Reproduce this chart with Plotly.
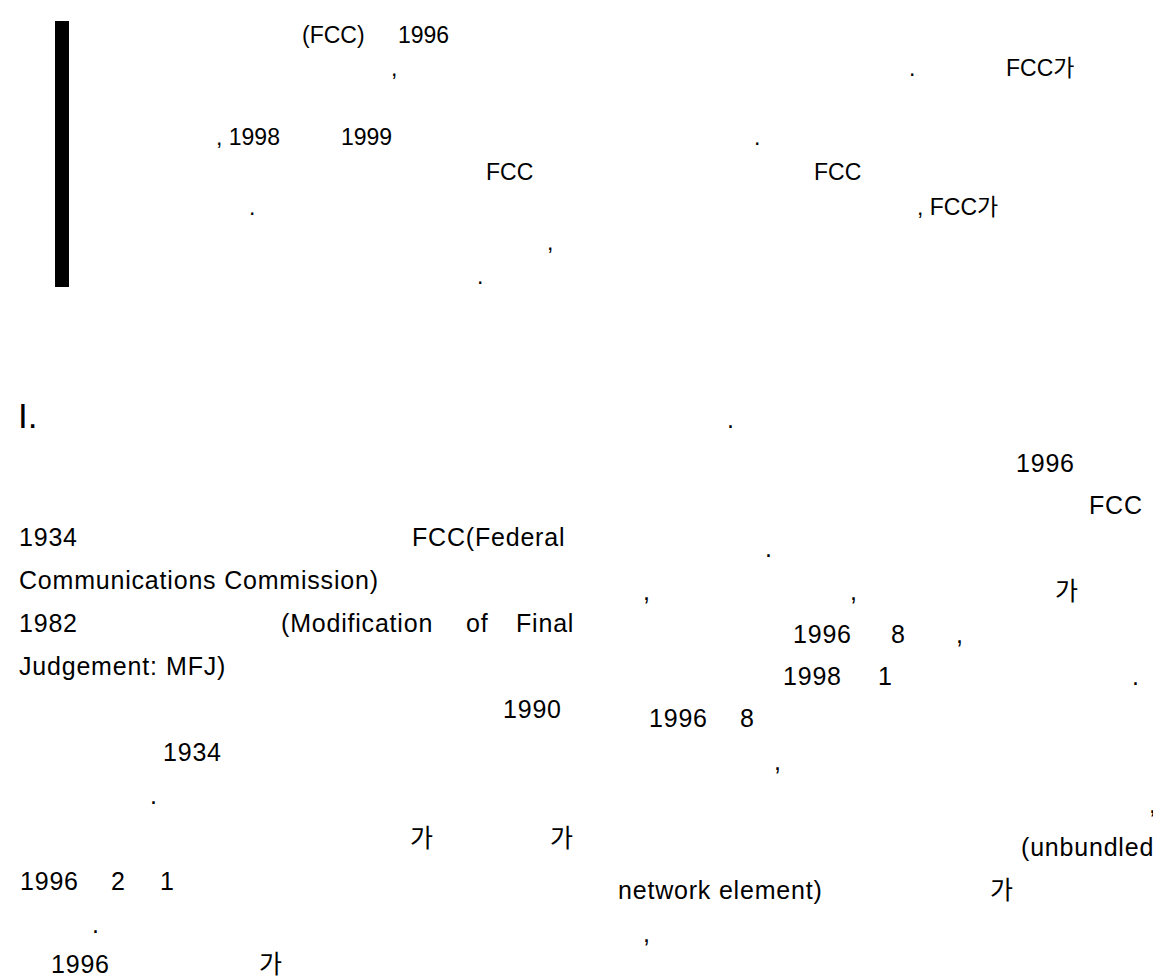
import plotly.graph_objects as go

# ---------------- data: text fragments of the page ----------------
# abstract block (top, boxed by a black bar on the left)
top_texts = ["(FCC)", "1996",
             ",", ".", "FCC가",
             ", 1998", "1999", ".",
             "FCC", "FCC",
             ".", ", FCC가",
             ",",
             "."]
# section heading
heading_texts = ["I."]
# left body column
left_texts = ["1934", "FCC(Federal",
              "Communications Commission)",
              "1982", "(Modification", "of", "Final",
              "Judgement:", "MFJ)",
              "1990",
              "1934",
              ".",
              "가", "가",
              "1996", "2", "1",
              ".",
              "1996", "가"]
# right body column
right_texts = [".",
               "1996",
               "FCC",
               ".",
               ",", ",", "가",
               "1996", "8", ",",
               "1998", "1", ".",
               "1996", "8",
               ",",
               ",",
               "(unbundled",
               "network element)", "가",
               ","]

# ---------------- layout: where each fragment sits (page pixels) ----------------
top_x = [293, 389, 382, 900, 997, 207, 332, 745, 477, 805, 240, 908, 538, 468]
top_y = [27, 27, 60, 60, 60, 129, 129, 129, 164, 164, 199, 199, 234, 268]

heading_x = [9]
heading_y = [407]

left_x = [10, 403, 10, 10, 272, 457, 507, 10, 157, 494, 154, 141, 401, 541,
          11, 102, 151, 83, 42, 250]
left_y = [529, 529, 572, 615, 615, 615, 615, 658, 658, 701, 744, 787, 830, 830,
          873, 873, 873, 916, 956, 956]

right_x = [718, 1007, 1080, 756, 634, 841, 1046, 784, 882, 947, 774, 869, 1123,
           640, 731, 765, 1140, 1012, 609, 981, 634]
right_y = [411, 455, 497, 540, 583, 583, 583, 626, 626, 626, 668, 668, 668,
           710, 710, 753, 796, 839, 882, 882, 925]

W, H = 1161, 977
REG_FONT = "Liberation Sans, Arial, Noto Sans CJK KR, sans-serif"

fig = go.Figure()

annotations = []


def add_block(texts, xs, ys, family, size, spacing=0.0):
    for t, x, y in zip(texts, xs, ys):
        txt = t
        if spacing:
            txt = "<span style='letter-spacing:%spx'>%s</span>" % (spacing, t)
        annotations.append(dict(
            x=x, y=y, xref="x", yref="y", text=txt, showarrow=False,
            xanchor="left", yanchor="middle", borderpad=0,
            font=dict(family=family, size=size, color="#000000"),
        ))


add_block(top_texts, top_x, top_y, REG_FONT, 23)
add_block(heading_texts, heading_x, heading_y, REG_FONT, 35)
add_block(left_texts, left_x, left_y, REG_FONT, 25, spacing=0.8)
add_block(right_texts, right_x, right_y, REG_FONT, 25, spacing=0.8)

# black vertical bar marking the abstract block
shapes = [dict(type="rect", xref="x", yref="y", x0=47, x1=61, y0=13, y1=279,
               fillcolor="#000000", line=dict(width=0), layer="above")]

fig.update_layout(
    width=W, height=H,
    margin=dict(l=0, r=0, t=0, b=0),
    paper_bgcolor="white", plot_bgcolor="white",
    showlegend=False,
    annotations=annotations,
    shapes=shapes,
    xaxis=dict(range=[0, W], visible=False, fixedrange=True),
    yaxis=dict(range=[H, 0], visible=False, fixedrange=True),
)

fig.write_html("out.html")
